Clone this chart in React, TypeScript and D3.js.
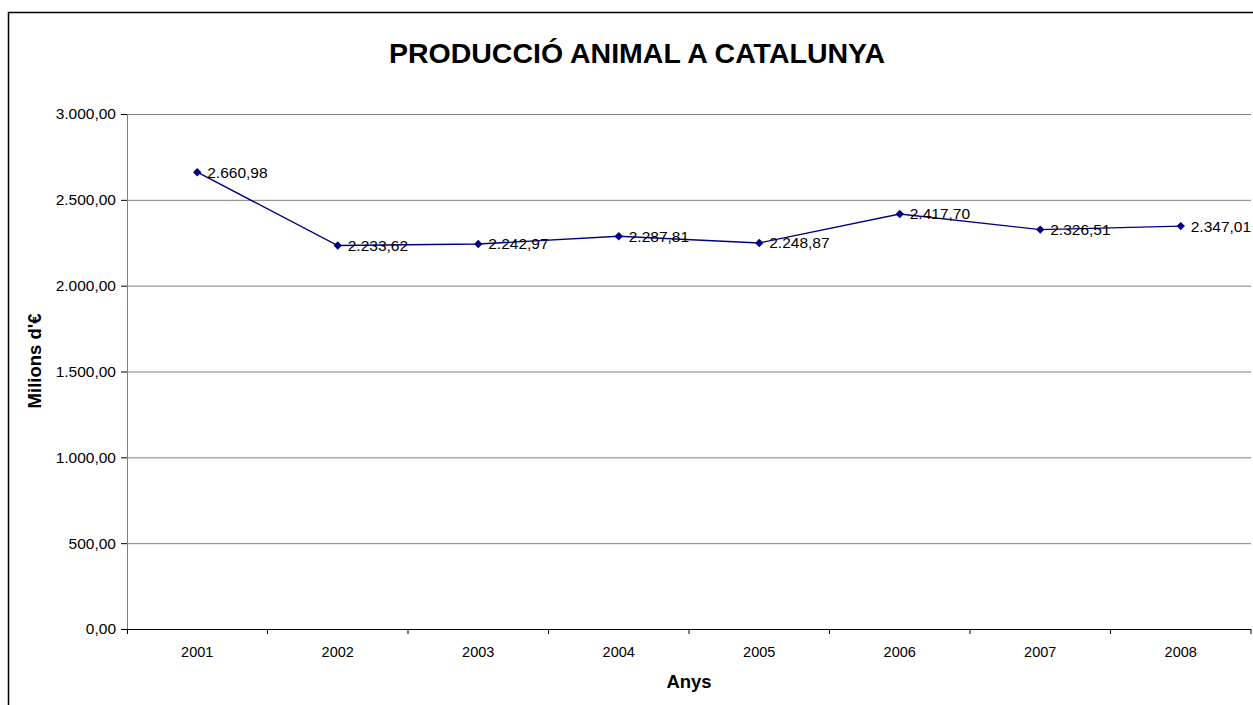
import * as d3 from "d3";

const years = ["2001", "2002", "2003", "2004", "2005", "2006", "2007", "2008"];
const values = [2660.98, 2233.62, 2242.97, 2287.81, 2248.87, 2417.7, 2326.51, 2347.01];
const yTicks = [0, 500, 1000, 1500, 2000, 2500, 3000];

const W = 1253;
const H = 705;
const margin = { top: 114, right: 2, bottom: 76, left: 127 };
const FONT = "'Liberation Sans', Arial, sans-serif";

// 2.660,98 style
const fmt = (v: number) => {
  const [i, d] = v.toFixed(2).split(".");
  return i.replace(/\B(?=(\d{3})+(?!\d))/g, ".") + "," + d;
};

export default function App() {
  const w = W - margin.left - margin.right;
  const h = H - margin.top - margin.bottom;

  const x = d3.scaleBand().domain(years).range([0, w]);
  const y = d3.scaleLinear().domain([0, 3000]).range([h, 0]);
  const cx = (yr: string) => (x(yr) ?? 0) + x.bandwidth() / 2;

  const line = d3
    .line<number>()
    .x((_, i) => cx(years[i]))
    .y((v) => y(v));

  const diamond = d3.symbol(d3.symbolDiamond2, 45)()!;

  return (
    <svg
      width={W}
      height={H}
      style={{ position: "absolute", left: 0, top: 0, display: "block" }}
      fontFamily={FONT}
    >
      <rect x={0} y={0} width={W} height={H} fill="#fff" />
      <rect x={8.5} y={12.5} width={W + 10} height={H + 10} fill="none" stroke="#000" strokeWidth={1.5} />

      <text x={637} y={63} textAnchor="middle" fontSize={28.5} fontWeight="bold">
        PRODUCCIÓ ANIMAL A CATALUNYA
      </text>

      <g transform={`translate(${margin.left},${margin.top})`}>
        {yTicks.map((t) => (
          <g key={t}>
            {t > 0 && (
              <line x1={0} x2={w} y1={y(t) + 0.5} y2={y(t) + 0.5} stroke="#808080" strokeWidth={1} />
            )}
            <line x1={-6} x2={0} y1={y(t) + 0.5} y2={y(t) + 0.5} stroke="#000" />
            <text x={-11} y={y(t)} dy="0.35em" textAnchor="end" fontSize={15.5}>
              {fmt(t)}
            </text>
          </g>
        ))}
        <line x1={0.5} x2={0.5} y1={0} y2={h} stroke="#808080" />
        <line x1={0} x2={w} y1={h + 0.5} y2={h + 0.5} stroke="#000" />
        {years.map((yr, i) => (
          <g key={yr}>
            <line
              x1={(x(yr) ?? 0) + x.bandwidth()}
              x2={(x(yr) ?? 0) + x.bandwidth()}
              y1={h}
              y2={h + 5}
              stroke="#000"
            />
            {i === 0 && <line x1={0.5} x2={0.5} y1={h} y2={h + 5} stroke="#000" />}
            <text x={cx(yr)} y={h + 28} textAnchor="middle" fontSize={14.5}>
              {yr}
            </text>
          </g>
        ))}

        <path d={line(values) ?? ""} fill="none" stroke="#000080" strokeWidth={1.4} />
        {values.map((v, i) => (
          <g key={i} transform={`translate(${cx(years[i])},${y(v)})`}>
            <path d={diamond} fill="#000080" />
            <text x={10} y={0} dy="0.35em" fontSize={15.5}>
              {fmt(v)}
            </text>
          </g>
        ))}

        <text x={w / 2} y={h + 59} textAnchor="middle" fontSize={18.5} fontWeight="bold">
          Anys
        </text>
      </g>

      <text
        transform={`translate(41,361) rotate(-90)`}
        textAnchor="middle"
        fontSize={18.5}
        fontWeight="bold"
      >
        Milions d'€
      </text>
    </svg>
  );
}
